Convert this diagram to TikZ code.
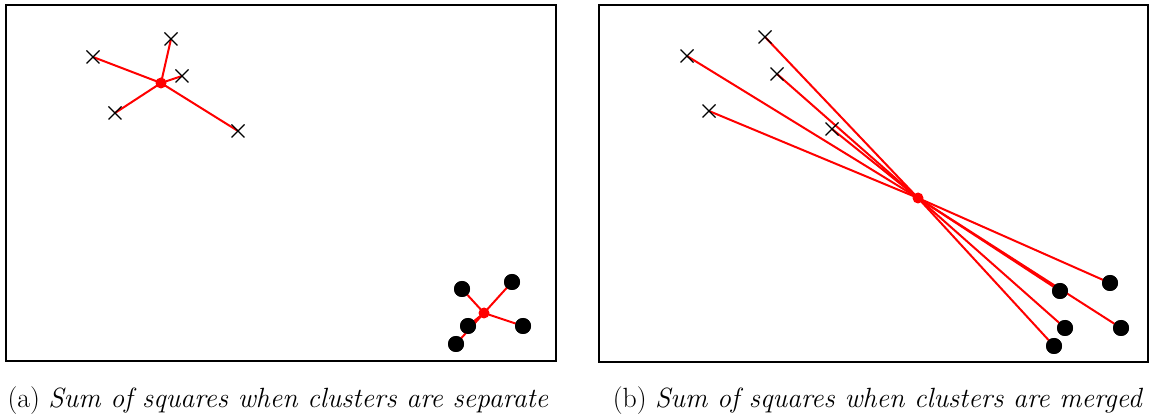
\documentclass[tikz,border=0pt]{standalone}
\usetikzlibrary{calc}
\newcommand{\xmark}[1]{\draw[cross] ($(#1)+(-6.5,-6.5)$) -- ($(#1)+(6.5,6.5)$) ($(#1)+(-6.5,6.5)$) -- ($(#1)+(6.5,-6.5)$);}
\begin{document}
\begin{tikzpicture}[x=1pt,y=-1pt,
  frame/.style={draw=black,line width=2.4pt},
  cross/.style={draw=black,line width=1.3pt},
  link/.style={draw=red,line width=2pt},
  ctr/.style={circle,fill=red,inner sep=0pt,minimum size=11pt},
  dot/.style={circle,fill=black,inner sep=0pt,minimum size=16pt},
  captext/.style={font=\fontsize{27.8}{32}\selectfont,inner sep=0pt}]
\useasboundingbox (0,0) rectangle (1151,419);
% frames
\draw[frame] (6,5) rectangle (556,361);
\draw[frame] (599,5) rectangle (1148,362);
% (a) crosses
\coordinate (a1) at (93,57);
\coordinate (a2) at (171,39);
\coordinate (a3) at (182,76);
\coordinate (a4) at (115,113);
\coordinate (a5) at (238,131);
\coordinate (ca) at (161,83);
\foreach \p in {a1,a2,a3,a4,a5} {\draw[link] (ca) -- (\p);}
\node[ctr] (cac) at (ca) {};
% (a) dots
\coordinate (ac) at (484,313);
\node[dot] (b1) at (462,289) {};
\node[dot] (b2) at (512,282) {};
\node[dot] (b3) at (468,326) {};
\node[dot] (b4) at (523,326) {};
\node[dot] (b5) at (456,344) {};
\foreach \p in {b1,b2,b3,b4,b5} {\draw[link] (ac) -- (\p.center);}
\foreach \p in {b1,b2,b3,b4,b5} {\fill (\p) circle (8pt);}
\node[ctr] (acc) at (ac) {};
% (b)
\coordinate (m1) at (687,56);
\coordinate (m2) at (765,37);
\coordinate (m3) at (777,74);
\coordinate (m4) at (709,111);
\coordinate (m5) at (832,129);
\coordinate (cm) at (918,198);
\node[dot] (n1) at (1060,291) {};
\node[dot] (n2) at (1110,283) {};
\node[dot] (n3) at (1065,328) {};
\node[dot] (n4) at (1121,328) {};
\node[dot] (n5) at (1054,346) {};
\foreach \p in {m1,m2,m3,m4,m5} {\draw[link] (cm) -- (\p);}
\foreach \p in {n1,n2,n3,n4,n5} {\draw[link] (cm) -- (\p.center);}
\foreach \p in {n1,n2,n3,n4,n5} {\fill (\p) circle (8pt);}
\node[ctr] (cmc) at (cm) {};
% crosses on top
\foreach \p in {a1,a2,a3,a4,a5,m1,m2,m3,m4,m5} {\xmark{\p}}
% captions
\node[captext] (capa) at (278,401) {(a) \textit{Sum of squares when clusters are separate}};
\node[captext] (capb) at (878,401) {(b) \textit{Sum of squares when clusters are merged}};
\end{tikzpicture}
\end{document}
